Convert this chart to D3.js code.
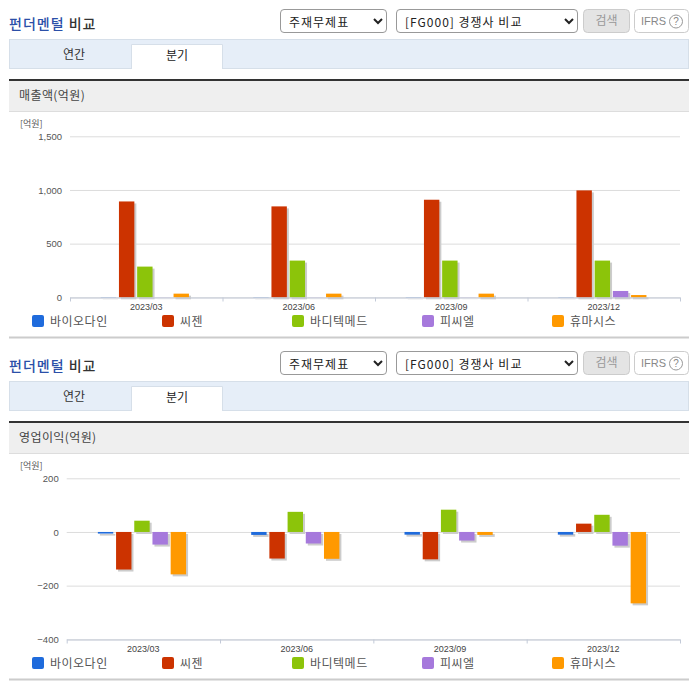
<!DOCTYPE html>
<html>
<head>
<meta charset="utf-8">
<script src="https://cdn.jsdelivr.net/npm/d3@7"></script>
<style>
body { margin: 0; background: #fff; }
#page { position: relative; width: 696px; height: 684px; overflow: hidden; }
svg { position: absolute; left: 0; top: 0; }
select { position: absolute; height: 24px; font: 12px "Noto Sans CJK KR", sans-serif; letter-spacing: 1px;
  color: #222; background: #fff; border: 1px solid #999; border-radius: 4px; padding: 0 0 0 4px; }
text { font-family: "Noto Sans CJK KR", sans-serif; }
.tick text { font-family: "Liberation Sans", sans-serif; }
</style>
</head>
<body>
<div id="page"></div>
<script>
const periods = ["2023/03", "2023/06", "2023/09", "2023/12"];
const companies = ["바이오다인", "씨젠", "바디텍메드", "피씨엘", "휴마시스"];
const colors = ["#1f6bdc", "#cc3300", "#8cc40a", "#a679dc", "#ff9900"];
const legendX = [32, 162, 292, 422, 552];

// 매출액
const salesBio = [2, 2, 2, 2];
const salesSeegene = [893, 847, 909, 996];
const salesBoditech = [286, 342, 342, 342];
const salesPcl = [1, 1, 1, 59];
const salesHumasis = [34, 34, 34, 21];
const salesTicks = [0, 500, 1000, 1500];

// 영업이익
const profitBio = [-6, -11, -10, -10];
const profitSeegene = [-140, -99, -102, 31];
const profitBoditech = [42, 75, 83, 64];
const profitPcl = [-47, -43, -32, -51];
const profitHumasis = [-158, -100, -11, -266];
const profitTicks = [-400, -200, 0, 200];

const page = d3.select("#page");
const svg = page.append("svg").attr("width", 696).attr("height", 684);

function drawPanel(dy, title, series, ticks, left) {
    const g = svg.append("g").attr("transform", `translate(0, ${dy})`);

    // 상단 제목
    const head = g.append("text").attr("x", 9).attr("y", 29)
        .style("font-size", "14px").style("font-weight", 500).style("letter-spacing", "1px");
    head.append("tspan").attr("fill", "#2b4fa8").text("펀더멘털");
    head.append("tspan").attr("fill", "#333").text(" 비교");

    // 컨트롤
    page.append("select").style("left", "280px").style("top", `${dy + 9}px`).style("width", "107px")
        .append("option").text("주재무제표");
    page.append("select").style("left", "396px").style("top", `${dy + 9}px`).style("width", "182px")
        .append("option").text("[FG000] 경쟁사 비교");
    g.append("rect").attr("x", 583.5).attr("y", 9.5).attr("width", 46).attr("height", 23).attr("rx", 4)
        .attr("fill", "#e4e4e4").attr("stroke", "#ccc");
    g.append("text").attr("x", 606.5).attr("y", 25).attr("text-anchor", "middle")
        .attr("fill", "#999").style("font-size", "12px").text("검색");
    g.append("rect").attr("x", 634.5).attr("y", 9.5).attr("width", 54).attr("height", 23).attr("rx", 4)
        .attr("fill", "#fff").attr("stroke", "#ccc");
    g.append("text").attr("x", 641).attr("y", 25).attr("fill", "#888")
        .style("font-family", "Liberation Sans").style("font-size", "11px").text("IFRS");
    g.append("circle").attr("cx", 676).attr("cy", 21.5).attr("r", 6.5).attr("fill", "none").attr("stroke", "#999");
    g.append("text").attr("x", 676).attr("y", 25).attr("text-anchor", "middle").attr("fill", "#888")
        .style("font-family", "Liberation Sans").style("font-size", "10px").text("?");

    // 탭
    g.append("rect").attr("x", 9.5).attr("y", 39.5).attr("width", 679).attr("height", 29)
        .attr("fill", "#e6eef8").attr("stroke", "#d6dfe9");
    g.append("path").attr("d", "M131.5,69V44.5H222.5V69").attr("fill", "#fff").attr("stroke", "#d6dfe9");
    g.append("text").attr("x", 74).attr("y", 59).attr("text-anchor", "middle").attr("fill", "#333")
        .style("font-size", "12px").text("연간");
    g.append("text").attr("x", 177).attr("y", 60).attr("text-anchor", "middle").attr("fill", "#222")
        .style("font-size", "12px").text("분기");

    // 섹션 헤더
    g.append("rect").attr("x", 9).attr("y", 81).attr("width", 680).attr("height", 30).attr("fill", "#efefef");
    g.append("rect").attr("x", 9).attr("y", 111).attr("width", 680).attr("height", 1).attr("fill", "#ddd");
    g.append("rect").attr("x", 9).attr("y", 79).attr("width", 680).attr("height", 2).attr("fill", "#333");
    g.append("text").attr("x", 19).attr("y", 100).attr("fill", "#444")
        .style("font-size", "12px").style("letter-spacing", "0.4px").text(title);
    g.append("text").attr("x", 20).attr("y", 127).attr("fill", "#555")
        .style("font-size", "9px").text("[억원]");

    // 스케일
    const x = d3.scaleBand().domain(periods).range([left, 680]);
    const inner = d3.scaleBand().domain(companies).range([0, 91]);
    const y = d3.scaleLinear().domain(d3.extent(ticks)).range([297.3, 136.3]);
    const barWidth = 15.4;
    const groupPad = (x.step() - 91) / 2;

    // 격자, y축
    const yAxis = g.append("g").attr("transform", `translate(${left}, 0)`)
        .call(d3.axisLeft(y).tickValues(ticks).tickSize(-(680 - left)).tickPadding(8).tickFormat(d3.format(",")));
    yAxis.select(".domain").remove();
    yAxis.selectAll(".tick line").attr("stroke", "#dcdcdc");
    yAxis.selectAll(".tick text").attr("fill", "#555").style("font-size", "9.5px");

    // 막대
    series.forEach((values, i) => {
        const bars = g.append("g");
        const barX = (d, j) => x(periods[j]) + groupPad + inner(companies[i]);
        bars.selectAll(".shadow").data(values).enter().append("rect")
            .attr("class", "shadow")
            .attr("x", (d, j) => barX(d, j) + 2)
            .attr("y", d => Math.min(y(d), y(0)) + 2)
            .attr("width", barWidth)
            .attr("height", d => Math.abs(y(d) - y(0)))
            .attr("fill", "#ccc");
        bars.selectAll(".bar").data(values).enter().append("rect")
            .attr("class", "bar")
            .attr("x", barX)
            .attr("y", d => Math.min(y(d), y(0)))
            .attr("width", barWidth)
            .attr("height", d => Math.abs(y(d) - y(0)))
            .attr("fill", colors[i]);
    });

    // x축
    const xAxis = g.append("g").attr("transform", "translate(0, 297.5)")
        .call(d3.axisBottom(x).tickSize(0).tickPadding(6));
    xAxis.select(".domain").attr("stroke", "#c3cad8");
    xAxis.selectAll(".tick text").attr("fill", "#444").style("font-size", "9px");
    const edges = d3.scaleLinear().domain([0, periods.length]).range([left, 680]);
    g.append("g").attr("transform", "translate(0, 297.5)")
        .call(d3.axisBottom(edges).tickValues(d3.range(periods.length + 1)).tickSize(4).tickFormat(""))
        .call(a => a.select(".domain").remove())
        .selectAll("line").attr("stroke", "#c3cad8");

    // 범례
    const legend = g.selectAll(".legend").data(companies).enter().append("g")
        .attr("class", "legend")
        .attr("transform", (d, i) => `translate(${legendX[i]}, 315)`);
    legend.append("rect").attr("width", 12).attr("height", 12).attr("rx", 2)
        .attr("fill", (d, i) => colors[i]);
    legend.append("text").attr("x", 18).attr("y", 10.5).attr("fill", "#555")
        .style("font-size", "12px").style("letter-spacing", "0.5px").text(d => d);

    g.append("rect").attr("x", 9).attr("y", 336.5).attr("width", 680).attr("height", 2).attr("fill", "#ccc");
}

drawPanel(0, "매출액(억원)", [salesBio, salesSeegene, salesBoditech, salesPcl, salesHumasis], salesTicks, 70);
drawPanel(342, "영업이익(억원)", [profitBio, profitSeegene, profitBoditech, profitPcl, profitHumasis], profitTicks, 66.7);
</script>
</body>
</html>
